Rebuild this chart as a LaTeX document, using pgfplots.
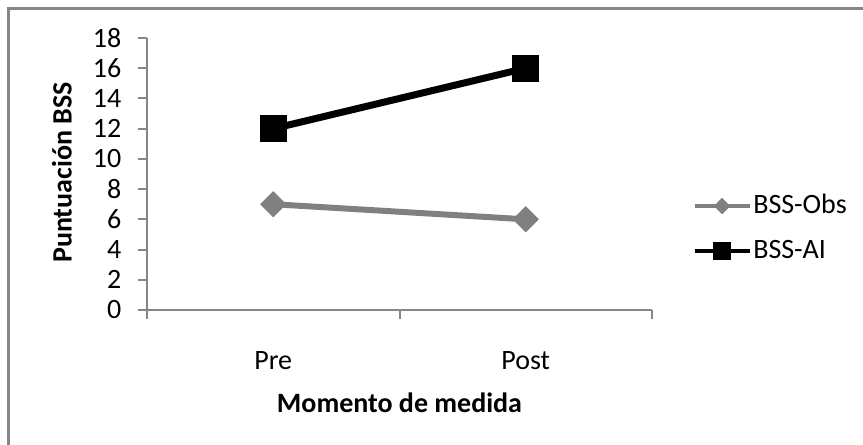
\documentclass[border=0pt]{standalone}
\usepackage{fontspec}
\setmainfont{Carlito}
\usepackage{pgfplots}
\pgfplotsset{compat=1.18}
\definecolor{axgray}{RGB}{134,134,134}
\definecolor{sergray}{RGB}{128,128,128}
\pgfplotsset{
  obsleg/.style={legend image code/.code={\draw[##1, line width=2.25bp, mark size=2.65bp, mark repeat=2, mark phase=2] plot coordinates {(0bp,0bp) (13.75bp,0bp) (27.5bp,0bp)};}},
  aileg/.style={legend image code/.code={\draw[##1, line width=2.25bp, mark size=4.25bp, mark repeat=2, mark phase=2] plot coordinates {(0bp,0bp) (13.75bp,0bp) (27.5bp,0bp)};}},
}
\begin{document}
\fontsize{14bp}{17bp}\selectfont
\begin{tikzpicture}
\useasboundingbox (0,0) rectangle (431.5bp,222.5bp);
\draw[axgray, line width=1.5bp] (4bp,0) -- (4bp,218bp) -- (431.5bp,218bp);
\begin{axis}[
  at={(73.5bp,67.5bp)}, anchor=south west,
  scale only axis, width=252.5bp, height=136bp,
  xmin=0.5, xmax=2.5, ymin=0, ymax=18,
  axis x line*=bottom, axis y line*=left,
  axis line style={axgray, line width=1bp},
  ytick={0,2,...,18},
  tick align=outside,
  major tick length=4.5bp, minor tick length=4.5bp,
  tick style={axgray, line width=1bp},
  xtick={1,2}, xticklabels={Pre,Post},
  major x tick style={draw=none},
  minor xtick={0.5,1.5,2.5},
  tick label style={font=\fontsize{14bp}{17bp}\selectfont},
  /pgf/number format/assume math mode=true,
  yticklabel style={anchor=east, xshift=-3.5bp},
  xticklabel style={anchor=base, yshift=-25bp},
  xlabel={Momento de medida}, ylabel={Puntuación BSS},
  label style={font=\bfseries\fontsize{14bp}{17bp}\selectfont},
  xlabel style={at={(axis description cs:0.5,-0.375)}, anchor=base},
  ylabel style={at={(axis description cs:-0.1683,0.505)}, anchor=center},
  legend style={at={(axis description cs:1.079,0.2996)}, anchor=west,
    draw=none, fill=none, inner sep=0pt, row sep=8bp,
    font=\fontsize{14bp}{17bp}\selectfont,
    nodes={inner sep=0.75bp, text height=10bp, text depth=3bp, anchor=west}},
  legend cell align=left,
  clip=false,
]
\addplot[sergray, line width=3bp, mark=square*, mark size=4.4bp,
  mark options={rotate=45, solid, fill=sergray, draw=sergray, line width=0.5bp},
  obsleg]
  coordinates {(1,7) (2,6)};
\addlegendentry{BSS-Obs}
\addplot[black, line width=3.5bp, mark=square*, mark size=6.5bp,
  mark options={solid, fill=black, line width=0.5bp},
  aileg]
  coordinates {(1,12) (2,16)};
\addlegendentry{BSS-AI}
\end{axis}
\end{tikzpicture}
\end{document}
